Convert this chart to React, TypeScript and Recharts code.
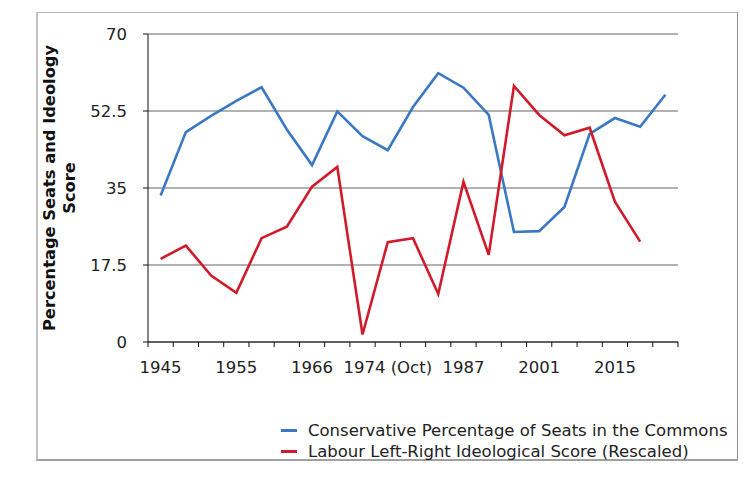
import React from 'react';
import { LineChart, Line, XAxis, YAxis, CartesianGrid } from 'recharts';

const categories = ['1945','1950','1951','1955','1959','1964','1966','1970','1974 (Feb)','1974 (Oct)','1979','1983','1987','1992','1997','2001','2005','2010','2015','2017','2019'];
const conservativeSeats = [33.3,47.7,51.4,54.8,57.9,48.3,40.2,52.4,46.8,43.6,53.4,61.1,57.8,51.6,25.0,25.2,30.7,47.3,50.9,48.9,56.2];
const labourIdeology: (number | null)[] = [18.9,21.9,15.1,11.2,23.6,26.2,35.3,39.8,1.7,22.7,23.6,10.9,36.4,19.8,58.2,51.6,47.0,48.7,31.9,22.8,null];
const yTicks = [0, 17.5, 35, 52.5, 70];
const labelEvery = 3;
const seriesNames = ['Conservative Percentage of Seats in the Commons', 'Labour Left-Right Ideological Score (Rescaled)'];
const seriesColors = ['#3B78C2', '#CF1B2B'];

const W = 754;
const H = 478;
const M = { top: 34, right: 76, bottom: 96, left: 0 };
const Y_AXIS_W = 148;
const PLOT_W = W - M.left - M.right - Y_AXIS_W;
const BAND = PLOT_W / categories.length;
const FONT = '"DejaVu Sans", Verdana, sans-serif';
const FS = 16.5;

const data = categories.map((c, i) => ({
  x: i + 0.5,
  name: c,
  con: conservativeSeats[i],
  lab: labourIdeology[i],
}));
const xTicks = Array.from({ length: categories.length + 1 }, (_, i) => i);

const XTick = (props: any) => {
  const { x, y, payload } = props;
  const v = payload.value;
  if (v % labelEvery !== 0 || v >= categories.length) return <g />;
  return (
    <text x={x + BAND / 2} y={y} dy="0.71em" textAnchor="middle" fontSize={FS} fontFamily={FONT} fill="#222">
      {categories[v]}
    </text>
  );
};

const YLabel = () => (
  <g fontFamily={FONT} fontSize={16.3} fontWeight="bold" fill="#111">
    <text x={49} y={188} transform="rotate(-90, 49, 188)" textAnchor="middle" dominantBaseline="central">
      Percentage Seats and Ideology
    </text>
    <text x={69} y={188} transform="rotate(-90, 69, 188)" textAnchor="middle" dominantBaseline="central">
      Score
    </text>
  </g>
);

export default function App() {
  return (
    <div style={{ position: 'absolute', left: 0, top: 0, width: W, height: H, background: '#fff' }}>
      <div
        style={{
          position: 'absolute',
          left: 36,
          top: 12,
          width: 702,
          height: 449,
          borderTop: '1px solid #b5b5b5',
          borderRight: '1px solid #8f8f8f',
          borderBottom: '2px solid #a0a0a0',
          borderLeft: '2px solid #c2c2c2',
          boxSizing: 'border-box',
        }}
      />
      <div style={{ position: 'absolute', left: 0, top: 0 }}>
        <LineChart width={W} height={H} data={data} margin={M}>
          <CartesianGrid vertical={false} stroke="#999" strokeWidth={1.5} />
          <XAxis
            dataKey="x"
            type="number"
            domain={[0, categories.length]}
            ticks={xTicks}
            interval={0}
            tickSize={5}
            tickMargin={14}
            height={40}
            stroke="#111"
            tick={<XTick />}
          />
          <YAxis
            type="number"
            domain={[0, 70]}
            ticks={yTicks}
            interval={0}
            width={Y_AXIS_W}
            tickSize={5}
            tickMargin={16}
            stroke="#111"
            tick={{ fontSize: FS, fontFamily: FONT, fill: '#222' }}
            label={{ content: () => <YLabel /> }}
          />
          <Line type="linear" dataKey="con" name={seriesNames[0]} stroke={seriesColors[0]} strokeWidth={2.6} dot={false} isAnimationActive={false} />
          <Line type="linear" dataKey="lab" name={seriesNames[1]} stroke={seriesColors[1]} strokeWidth={2.6} dot={false} isAnimationActive={false} />
        </LineChart>
      </div>
      <div style={{ position: 'absolute', left: 281, top: 420, fontFamily: FONT, fontSize: FS, color: '#222', lineHeight: '21px' }}>
        {seriesNames.map((n, i) => (
          <div key={n} style={{ display: 'flex', alignItems: 'center', whiteSpace: 'nowrap' }}>
            <span style={{ display: 'inline-block', width: 16, height: 3, background: seriesColors[i], marginRight: 11 }} />
            <span>{n}</span>
          </div>
        ))}
      </div>
    </div>
  );
}
